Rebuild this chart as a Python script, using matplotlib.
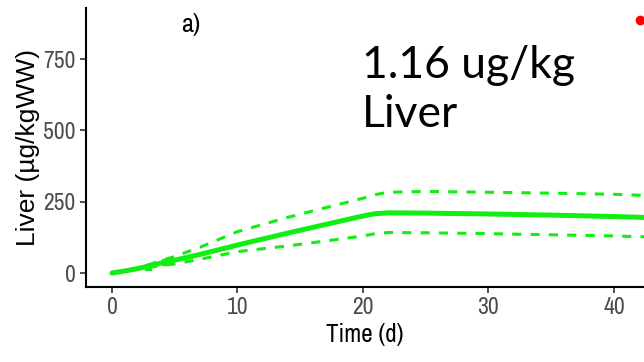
import matplotlib
matplotlib.use("Agg")
import matplotlib.pyplot as plt
from matplotlib import font_manager

# model prediction (median and bounds)
days = [0, 1, 2, 3, 4, 5, 7, 10, 14, 18, 20, 21, 22, 25, 30, 35, 40, 42.4]
median = [0, 7, 15, 25, 36, 45, 65, 98, 140, 180, 200, 208, 211, 210, 207, 203, 198, 195]
upper = [0, 8, 17, 30, 45, 58, 90, 145, 195, 240, 262, 275, 283, 286, 283, 280, 276, 272]
lower = [0, 6, 13, 20, 27, 32, 48, 75, 95, 118, 130, 138, 142, 141, 138, 134, 130, 127]

# observed data
obs_days = [2.9, 4.2]
obs_vals = [22, 40]
obs_err = [8, 10]

# outlier point
red_day = [42.1]
red_val = [887]

# pick a narrow face for ticks (like the ggplot original)
names = sorted(set(f.name for f in font_manager.fontManager.ttflist))
narrow = [n for n in names if "Narrow" in n or "Condensed" in n]

green = "#11EE11"
tick_font = (narrow[:1] if narrow else []) + ["DejaVu Sans"]

fig = plt.figure(figsize=(6.44, 3.62), dpi=100)
ax = fig.add_axes([86 / 644, 75 / 362, 558 / 644, 279 / 362])

ax.plot(days, median, color=green, lw=3.6, solid_capstyle="round")
ax.plot(days, upper, color=green, lw=2.2, ls=(0, (3, 3)))
ax.plot(days, lower, color=green, lw=2.2, ls=(0, (3, 3)))
ax.errorbar(obs_days, obs_vals, yerr=obs_err, fmt="s", color=green, ms=4, elinewidth=2, capsize=0)
ax.plot(red_day, red_val, "o", color="red", ms=6, clip_on=False)

ax.set_xlim(-2.07, 42.4)
ax.set_ylim(-49, 929)
ax.set_xticks([0, 10, 20, 30, 40])
ax.set_yticks([0, 250, 500, 750])

for s in ["top", "right"]:
    ax.spines[s].set_visible(False)
for s in ["left", "bottom"]:
    ax.spines[s].set_linewidth(1.5)
ax.tick_params(length=4, width=1.2, color="#333333", labelcolor="#4D4D4D", labelsize=17)
for lab in ax.get_xticklabels() + ax.get_yticklabels():
    lab.set_family(tick_font)
    lab.set_stretch("condensed")

ax.set_xlabel("Time (d)", fontsize=18, family=tick_font, stretch="condensed", labelpad=3)
ax.set_ylabel("Liver (µg/kgWW)", fontsize=19, family=["Liberation Sans", "DejaVu Sans"], labelpad=2)

fig.text(181 / 644, 1 - 32 / 362, "a)", fontsize=19, fontweight="bold", family=tick_font, stretch="condensed")
fig.text(362 / 644, 1 - 78 / 362, "1.16 ug/kg", fontsize=32, family=["Lato", "DejaVu Sans"], va="baseline")
fig.text(362 / 644, 1 - 127 / 362, "Liver", fontsize=32, family=["Lato", "DejaVu Sans"], va="baseline")

fig.savefig("out.png", dpi=100)
